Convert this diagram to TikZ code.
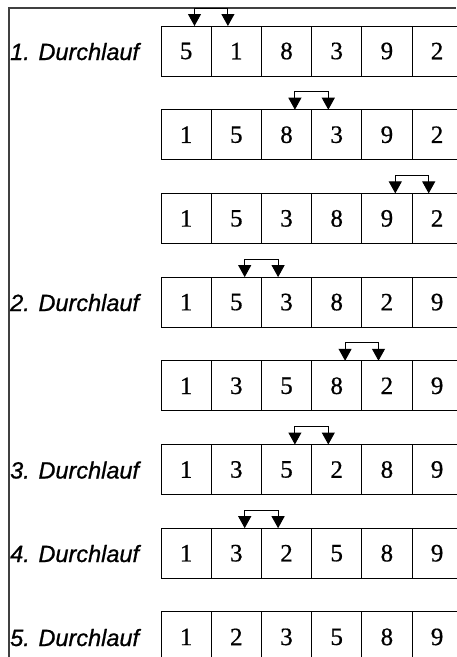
\documentclass[tikz,border=0pt]{standalone}
\usepackage{fontspec}
\setmainfont[FakeBold=0.6]{Liberation Serif}
\newfontfamily\labelfont[FakeBold=0.8]{Liberation Sans}
\usetikzlibrary{arrows.meta}
\begin{document}
\begin{tikzpicture}[x=1pt,y=-1pt,
  cell/.style={draw,line width=1pt,minimum width=50.2pt,minimum height=50pt,inner sep=0pt,outer sep=0pt,anchor=north west,font=\fontsize{25}{30}\selectfont},
  passlabel/.style={anchor=base west,inner sep=0pt,font=\labelfont\itshape\fontsize{23.5}{28}\selectfont},
  swaparrow/.style={line width=1pt,{Triangle[width=13pt,length=12pt]}-{Triangle[width=13pt,length=12pt]}},
  frameline/.style={line width=1.2pt,black!75}]
\useasboundingbox (0,0) rectangle (456,657);
\coordinate (ftop) at (456,8);
\coordinate (fcorner) at (9,8);
\coordinate (fbottom) at (9,657);
\draw[frameline] (ftop) -- (fcorner) -- (fbottom);
\foreach \r/\a/\b/\c/\d/\e/\f/\s in {0/5/1/8/3/9/2/1, 1/1/5/8/3/9/2/3, 2/1/5/3/8/9/2/5, 3/1/5/3/8/2/9/2, 4/1/3/5/8/2/9/4, 5/1/3/5/2/8/9/3, 6/1/3/2/5/8/9/2, 7/1/2/3/5/8/9/0}{
  \pgfmathsetmacro\ytop{26+83.7*\r}
  \foreach \v [count=\i] in {\a,\b,\c,\d,\e,\f}{
    \node[cell] (c\r-\i) at ({161+50.2*(\i-1)},\ytop) {\v};
  }
  \ifnum\s>0
    \pgfmathtruncatemacro\t{\s+1}
    \draw[swaparrow] ([xshift=8.4pt]c\r-\s.north) -- ++(0,-18) -| ([xshift=-8.4pt]c\r-\t.north);
  \fi
}
\node[passlabel] (l1) at (10,60) {1. Durchlauf};
\node[passlabel] (l2) at (10,311) {2. Durchlauf};
\node[passlabel] (l3) at (10,478.5) {3. Durchlauf};
\node[passlabel] (l4) at (10,562) {4. Durchlauf};
\node[passlabel] (l5) at (10,646) {5. Durchlauf};
\end{tikzpicture}
\end{document}
